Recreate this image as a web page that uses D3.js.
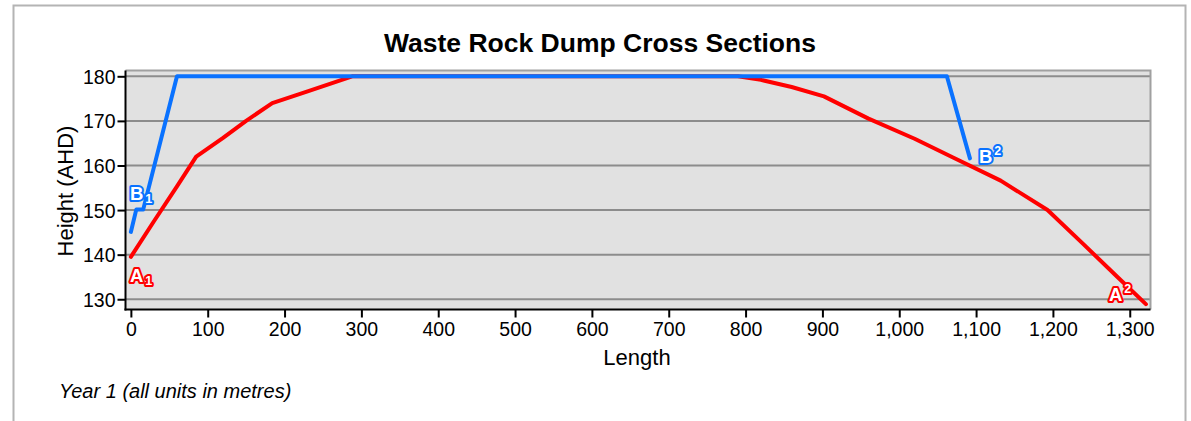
<!DOCTYPE html>
<html><head><meta charset="utf-8">
<script src="https://cdn.jsdelivr.net/npm/d3@7/dist/d3.min.js"></script>
<style>body{margin:0;background:#fff}svg{display:block;font-family:"Liberation Sans",Arial,sans-serif}</style>
</head><body><svg id="c" width="1191" height="421"></svg>
<script>
const title = "Waste Rock Dump Cross Sections";
const xLabel = "Length";
const yLabel = "Height (AHD)";
const note = "Year 1 (all units in metres)";
const xTicks = [0,100,200,300,400,500,600,700,800,900,1000,1100,1200,1300];
const yTicks = [130,140,150,160,170,180];
// Section A (red)
const sectionAX = [0,30,60,85,120,150,184,230,288,500,790,820,860,902,960,1020,1070,1132,1193,1240,1284,1321];
const sectionAY = [139.5,147.5,155.3,162.0,166.2,170.0,174.0,176.6,180,180,180,179.2,177.6,175.5,170.5,166.0,161.8,156.6,150.0,142.3,135.0,128.9];
// Section B (blue)
const sectionBX = [0,7,16,60,1062,1092];
const sectionBY = [145.1,150.1,150.1,180,180,161.6];

const svg = d3.select("#c");
const L=125.5, R=1150.5, T=70.5, B=309.5;
const x = d3.scaleLinear().domain([-7,1327]).range([L,R]);
const y = d3.scaleLinear().domain([127.7,181.3]).range([B,T]);

// outer frame
svg.append("rect").attr("x",13.5).attr("y",5.5).attr("width",1172).attr("height",440)
  .attr("fill","none").attr("stroke","#b4b4b4").attr("stroke-width",2);

svg.append("text").attr("x",600).attr("y",52).attr("text-anchor","middle")
  .attr("font-size",26.5).attr("font-weight","bold").text(title);

// plot bg
svg.append("rect").attr("x",L).attr("y",T).attr("width",R-L).attr("height",B-T).attr("fill","#e1e1e1");
// grid
svg.append("g").selectAll("line").data(yTicks).join("line")
  .attr("x1",L).attr("x2",R).attr("y1",d=>y(d)).attr("y2",d=>y(d))
  .attr("stroke","#8c8c8c").attr("stroke-width",2);
// top/right border
svg.append("path").attr("d",`M${L},${T}H${R}V${B}`).attr("fill","none").attr("stroke","#a0a0a0").attr("stroke-width",2);

const line = d3.line().x(d=>x(d[0])).y(d=>y(d[1]));
const dataA = sectionAX.map((v,i)=>[v,sectionAY[i]]);
const dataB = sectionBX.map((v,i)=>[v,sectionBY[i]]);
svg.append("path").datum(dataA).attr("d",line).attr("fill","none").attr("stroke","#ff0000").attr("stroke-width",4).attr("stroke-linejoin","round").attr("stroke-linecap","round");
svg.append("path").datum(dataB).attr("d",line).attr("fill","none").attr("stroke","#0a72ff").attr("stroke-width",4).attr("stroke-linejoin","round").attr("stroke-linecap","round");

// axes
const ya = svg.append("g").attr("transform",`translate(${L},0)`)
  .call(d3.axisLeft(y).tickValues(yTicks).tickSize(8).tickPadding(2).tickFormat(d3.format("d")));
const xa = svg.append("g").attr("transform",`translate(0,${B})`)
  .call(d3.axisBottom(x).tickValues(xTicks).tickSize(8).tickPadding(5).tickFormat(d3.format(",")));
[ya,xa].forEach(g=>{
  g.select(".domain").attr("stroke","#000").attr("stroke-width",2);
  g.selectAll(".tick line").attr("stroke","#000").attr("stroke-width",2);
  g.selectAll("text").attr("font-size",19.5).attr("fill","#000").attr("font-family","Liberation Sans, Arial, sans-serif");
});
ya.selectAll("text").attr("dy","0.36em");
xa.select(".domain").attr("d",`M${L-1},0H${R}`);
ya.select(".domain").attr("d",`M0,${T}V${B+1}`);

svg.append("text").attr("x",637).attr("y",365).attr("text-anchor","middle").attr("font-size",22).text(xLabel);
svg.append("text").attr("transform","translate(73,191) rotate(-90)").attr("text-anchor","middle").attr("font-size",22).text(yLabel);
svg.append("text").attr("x",59).attr("y",398).attr("font-size",20).attr("font-style","italic").text(note);

// labels
function lab(px,py,letter,idx,sup,color){
  const t = svg.append("text").attr("x",px).attr("y",py)
    .attr("font-weight","bold").attr("fill","#fff").attr("stroke",color).attr("stroke-width",4)
    .attr("paint-order","stroke").attr("stroke-linejoin","round");
  t.append("tspan").attr("font-size",18.5).text(letter);
  t.append("tspan").attr("font-size",12.5).attr("dx",2).attr("dy",sup?-8:3).text(idx);
}
const a0=dataA[0], aN=dataA[dataA.length-1], b0=dataB[0], bN=dataB[dataB.length-1];
lab(x(a0[0])-1, y(a0[1])+25, "A","1",false,"#ff0000");
lab(x(b0[0])-1, y(b0[1])-32, "B","1",false,"#0a72ff");
lab(x(bN[0])+9, y(bN[1])+5, "B","2",true,"#0a72ff");
lab(x(aN[0])-37, y(aN[1])-3, "A","2",true,"#ff0000");
</script></body></html>
